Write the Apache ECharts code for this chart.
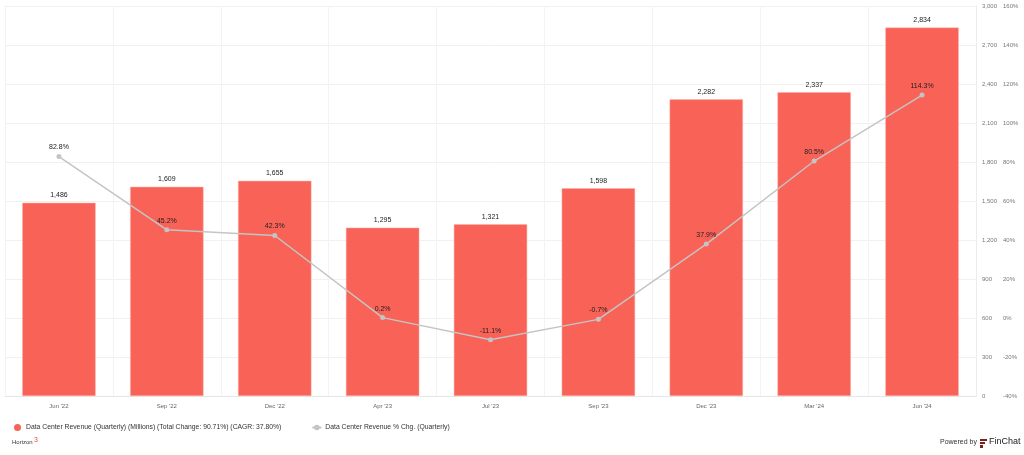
<!DOCTYPE html>
<html><head><meta charset="utf-8">
<script src="https://cdn.jsdelivr.net/npm/echarts@6/dist/echarts.min.js"></script>
<style>html,body{margin:0;padding:0;background:#fff}#c{width:1024px;height:455px}</style>
</head><body><div id="c"></div>
<script>
const categories = ["Jun '22","Sep '22","Dec '22","Apr '23","Jul '23","Sep '23","Dec '23","Mar '24","Jun '24"];
const revenue = [1486,1609,1655,1295,1321,1598,2282,2337,2834];
const pctChange = [82.8,45.2,42.3,0.2,-11.1,-0.7,37.9,80.5,114.3];
const revenueName = "Data Center Revenue (Quarterly) (Millions) (Total Change: 90.71%) (CAGR: 37.80%)";
const pctName = "Data Center Revenue % Chg. (Quarterly)";

const chart = echarts.init(document.getElementById('c'));
const font = 'Liberation Sans, Helvetica, Arial, sans-serif';
chart.setOption({
  animation:false,
  textStyle:{fontFamily:font},
  grid:{left:5,right:48,top:6,bottom:59},
  legend:{left:9,top:419,itemWidth:9,itemHeight:7,itemGap:30,
    textStyle:{fontSize:6.8,color:'#333',fontFamily:font,padding:[0,0,0,-1]},
    data:[{name:revenueName,icon:'circle',itemStyle:{borderWidth:0}},{name:pctName}]},
  xAxis:{type:'category',data:categories,
    axisLine:{show:true,lineStyle:{color:'#e6e6e6'}},axisTick:{show:false},
    axisLabel:{fontSize:6,color:'#666',margin:7},
    splitLine:{show:true,lineStyle:{color:'#f3f3f3'}}},
  yAxis:[
    {type:'value',position:'right',min:0,max:3000,interval:300,
     axisLine:{show:true,lineStyle:{color:'#ececec'}},axisTick:{show:false},
     axisLabel:{fontSize:6,color:'#777',margin:6,align:'left',
       formatter:v=>v.toLocaleString('en-US')},
     splitLine:{lineStyle:{color:'#f1f1f1'}}},
    {type:'value',position:'right',offset:22,min:-40,max:160,interval:20,
     axisLine:{show:false},axisTick:{show:false},
     axisLabel:{fontSize:6,color:'#777',margin:5,align:'left',formatter:v=>v+'%'},
     splitLine:{show:false}}
  ],
  series:[
    {name:revenueName,type:'bar',data:revenue,barWidth:'68%',
     itemStyle:{color:'#F86257',borderColor:'#fbb0aa',borderWidth:0.5},
     label:{show:true,position:'top',fontSize:7,color:'#222',distance:4,
       formatter:p=>p.value.toLocaleString('en-US')}},
    {name:pctName,type:'line',yAxisIndex:1,data:pctChange,
     symbol:'circle',symbolSize:5,
     lineStyle:{color:'#c4c4c4',width:1.5},itemStyle:{color:'#c4c4c4'},
     label:{show:true,position:'top',fontSize:7,color:'#222',distance:3,
       formatter:p=>p.value.toFixed(1)+'%'}}
  ],
  graphic:[
    {type:'text',left:12,top:439,style:{text:'Horizon',fontSize:6,fill:'#333',fontFamily:font}},
    {type:'text',left:34,top:437,style:{text:'3',fontSize:7,fill:'#e74c3c',fontFamily:font}},
    {type:'text',left:940,top:439,style:{text:'Powered by',fontSize:7,fill:'#333',fontFamily:font}},
    {type:'rect',shape:{x:980,y:439,width:7,height:2},style:{fill:'#7a1f1f'}},
    {type:'rect',shape:{x:980,y:442,width:5,height:2},style:{fill:'#7a1f1f'}},
    {type:'rect',shape:{x:980,y:445,width:3,height:3},style:{fill:'#7a1f1f'}},
    {type:'text',left:989,top:437,style:{text:'FinChat',fontSize:9,fill:'#222',fontFamily:font}}
  ]
});
</script></body></html>
